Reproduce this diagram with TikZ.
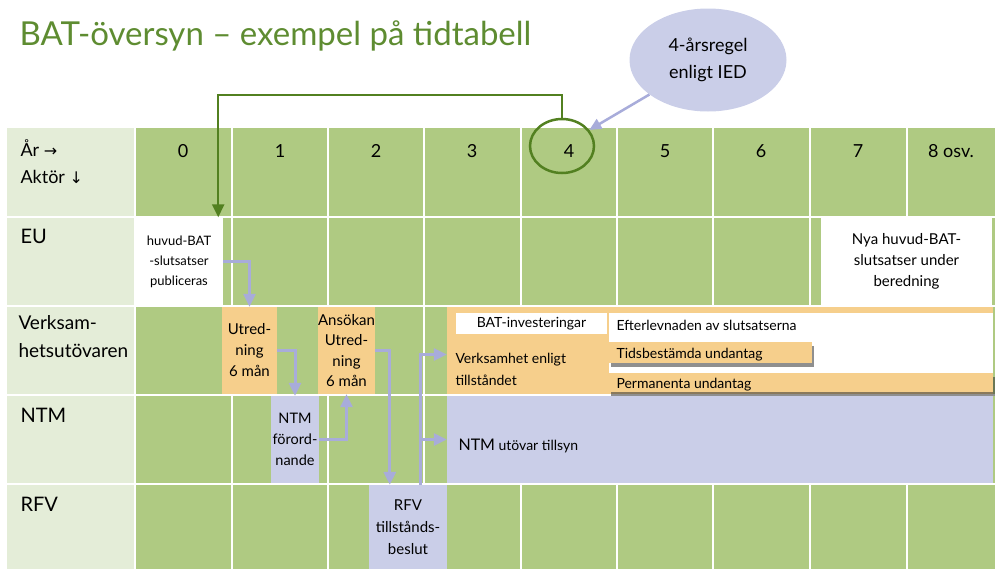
\documentclass[tikz,border=0pt]{standalone}
\usepackage{fontspec}
\setmainfont{Lato}
\newfontfamily\arrowfont{DejaVu Sans}
\usetikzlibrary{arrows.meta,shapes.geometric,shadows}
\definecolor{cellgreen}{RGB}{175,202,130}
\definecolor{sidegreen}{RGB}{228,237,216}
\definecolor{boxorange}{RGB}{246,207,140}
\definecolor{boxblue}{RGB}{202,206,232}
\definecolor{flowblue}{RGB}{168,172,218}
\definecolor{titlegreen}{RGB}{94,140,49}
\definecolor{ringgreen}{RGB}{82,128,32}
\begin{document}
\begin{tikzpicture}[x=1pt,y=-1pt,
  grid/.style={draw=white,line width=1.8pt},
  rowlbl/.style={anchor=base west,font=\fontsize{20}{28}\selectfont,align=left},
  yearlbl/.style={anchor=base,font=\fontsize{18}{22}\selectfont},
  box/.style={inner sep=0pt,align=center,font=\fontsize{15}{21}\selectfont},
  flow/.style={draw=flowblue,line width=3pt,-{Triangle[length=13pt,width=12pt]}},
  shade/.style={drop shadow={shadow xshift=1.5pt,shadow yshift=-4pt,fill=black!80,opacity=0.55}}]
\useasboundingbox (0,0) rectangle (995,568);

% title
\node[anchor=base west,text=titlegreen,font=\fontsize{33}{36}\selectfont] (title) at (16,45) {BAT-översyn – exempel på tidtabell};

% table background
\fill[cellgreen] (135,128) rectangle (995,570);
\fill[sidegreen] (7,128) rectangle (135,570);
\foreach \x in {135,232,328,424,521,617,713,810,907}
  \draw[grid] (\x,128) -- (\x,570);
\foreach \y in {217,306,395,484}
  \draw[grid] (7,\y) -- (995,\y);

% header
\node[anchor=base west,font=\fontsize{18}{27}\selectfont,align=left] (corner) at (17,183) {År {\arrowfont\fontsize{16}{16}\selectfont →}\\Aktör {\arrowfont\fontsize{16}{16}\selectfont ↓}};
\foreach \x/\t [count=\i from 0] in {183/0,280/1,376/2,472/3,569/4,665/5,761/6,858/7,951/8 osv.}
  \node[yearlbl] (yr\i) at (\x,157) {\t};

% actors
\node[rowlbl] (eu) at (17,243) {EU};
\node[rowlbl,font=\fontsize{19}{28}\selectfont] (verks) at (15,357) {Verksam-\\hetsutövaren};
\node[rowlbl] (ntm) at (17,422) {NTM};
\node[rowlbl] (rfvlbl) at (17,511) {RFV};

% EU row
\node[box,fill=white,minimum width=88pt,minimum height=88pt,font=\fontsize{13}{20}\selectfont] (huvud) at (179,261.5) {huvud-BAT\\-slutsatser\\publiceras};
\node[box,fill=white,minimum width=171pt,minimum height=88pt] (nyabat) at (906.5,261.5) {Nya huvud-BAT-\\slutsatser under\\beredning};

% NTM row
\node[box,fill=boxblue,minimum width=48pt,minimum height=87pt,font=\fontsize{14.5}{21}\selectfont] (ntmford) at (295,439.5) {NTM\\förord-\\nande};
\node[box,fill=boxblue,minimum width=546pt,minimum height=87pt] (tillsyn) at (720,439.5) {};
\node[anchor=base west,font=\fontsize{14}{18}\selectfont] (tillsynlbl) at (455,450) {{\fontsize{16}{18}\selectfont NTM} utövar tillsyn};

% Verksamhetsutövaren row
\node[box,fill=boxorange,minimum width=55pt,minimum height=87pt] (utred) at (249.5,350.5) {Utred-\\ning\\6 mån};
\node[box,fill=boxorange,minimum width=55pt,minimum height=87pt,font=\fontsize{15}{20.5}\selectfont] (ansokan) at (346.5,350.5) {Ansökan\\Utred-\\ning\\6 mån};
\node[box,fill=boxorange,minimum width=546pt,minimum height=87pt] (drift) at (720,350.5) {};
\node[anchor=west,align=left,font=\fontsize{14}{22}\selectfont] (driftlbl) at (452,369) {Verksamhet enligt\\tillståndet};
\node[box,fill=white,minimum width=151pt,minimum height=21pt,font=\fontsize{14}{18}\selectfont] (batinv) at (531.5,323.5) {BAT-investeringar};
\node[box,fill=white,minimum width=384pt,minimum height=60pt] (efterlev) at (801,343) {};
\node[anchor=base west,font=\fontsize{14}{18}\selectfont] (efterlbl) at (613,330) {Efterlevnaden av slutsatserna};
\node[box,fill=boxorange,shade,minimum width=384pt,minimum height=19pt] (perm) at (801,382.5) {};
\node[anchor=base west,font=\fontsize{14}{18}\selectfont] (permlbl) at (613,388) {Permanenta undantag};
\node[box,fill=boxorange,shade,minimum width=203pt,minimum height=21pt] (tidsb) at (710.5,352.5) {};
\node[anchor=base west,font=\fontsize{14}{18}\selectfont] (tidsblbl) at (613,358) {Tidsbestämda undantag};

% RFV row
\node[box,fill=boxblue,minimum width=78pt,minimum height=85pt,font=\fontsize{15}{22}\selectfont] (rfv) at (408,527.5) {RFV\\tillstånds-\\beslut};

% flows
\draw[flow] (huvud) -| (utred);
\draw[flow] (utred) -| (ntmford);
\draw[flow] (ntmford) -| (ansokan);
\draw[flow] (ansokan.east) -| ([xshift=21pt]rfv.north west);
\draw[flow] ([xshift=52pt]rfv.north west) |- ([yshift=-4pt]drift.west);
\draw[flow] ([xshift=52pt]rfv.north west) |- (tillsyn.west);

% 4-year rule
\node[ellipse,draw=ringgreen,line width=2.5pt,minimum width=64pt,minimum height=54pt] (ring) at (562,146) {};
\node[ellipse,fill=boxblue,minimum width=157pt,minimum height=103pt,align=center,font=\fontsize{18}{27}\selectfont] (regel) at (708,60) {4-årsregel\\enligt IED};
\draw[draw=flowblue,line width=2.5pt,-{Triangle[length=12pt,width=11pt]}] (regel) -- (ring);
\draw[ringgreen,line width=2.5pt,-{Triangle[length=13pt,width=12pt]}] (ring.north) -- ++(0,-23) -| ([xshift=-5pt]huvud.north east);
\end{tikzpicture}
\end{document}
